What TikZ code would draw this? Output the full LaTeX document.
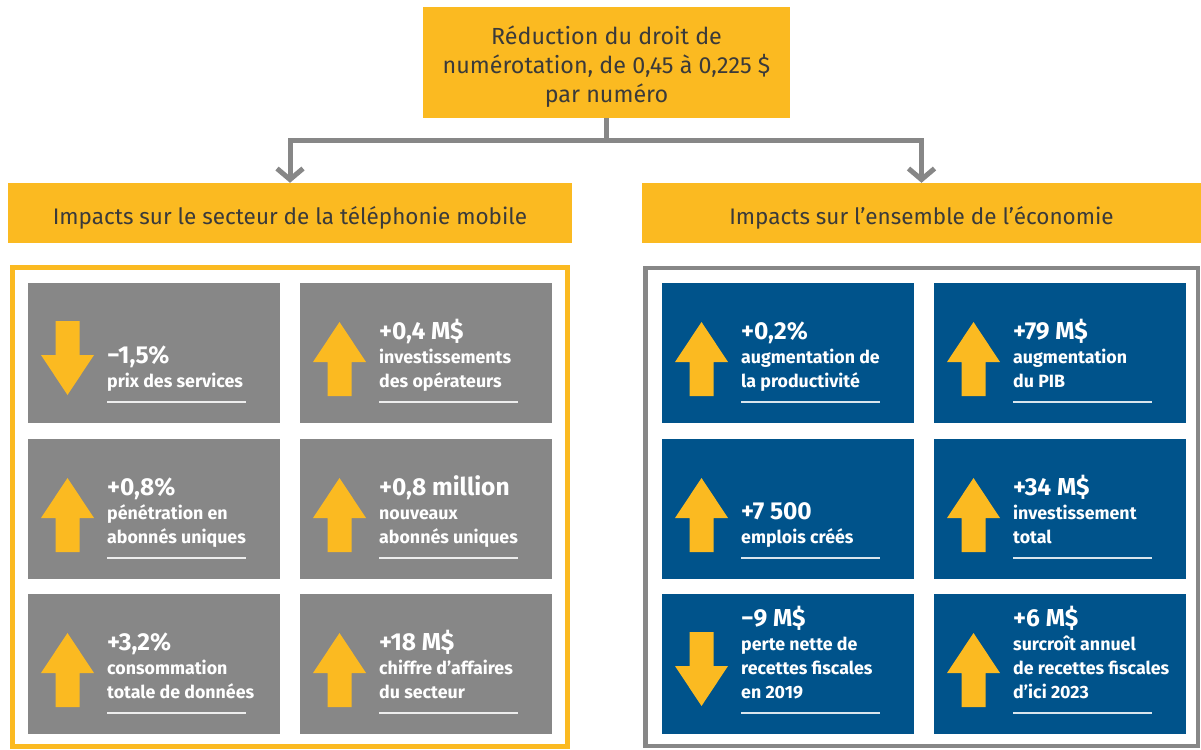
\documentclass[tikz,border=0pt]{standalone}
\usepackage{fontspec}
\setmainfont{Fira Sans}
\usetikzlibrary{arrows.meta}
\definecolor{ylw}{HTML}{FBBA21}
\definecolor{gry}{HTML}{878787}
\definecolor{blu}{HTML}{00538B}
\definecolor{txt}{HTML}{3A3A3A}
\tikzset{
  headbox/.style={fill=ylw, inner sep=0pt, text=txt, font=\fontsize{22.5}{28.5}\selectfont,
     text height=22pt, text depth=0pt},
  toptxt/.style={inner sep=0pt, align=center, text=txt, font=\fontsize{23.3}{29}\selectfont},
  conn/.style={draw=gry, line width=5pt, -{Straight Barb[length=11pt,width=26pt]}},
  valtxt/.style={anchor=base west, inner sep=0pt, text=white, font=\fontsize{24.5}{28}\selectfont\bfseries},
  subtxt/.style={anchor=base west, inner sep=0pt, text=white, font=\fontsize{17.8}{24}\selectfont\bfseries},
  rulel/.style={draw=white, opacity=0.85, line width=1.5pt},
}
\newcommand\tileup[3]{%
  \fill[#3] (#1,#2) rectangle (#1+252,#2+140);
  \fill[ylw] (#1+27.5,#2+113) -- (#1+27.5,#2+79) -- (#1+13,#2+79) -- (#1+39.5,#2+39)
     -- (#1+66,#2+79) -- (#1+51.5,#2+79) -- (#1+51.5,#2+113) -- cycle;
  \draw[rulel] (#1+79,#2+119) -- (#1+218,#2+119);
}
\newcommand\tiledown[3]{%
  \fill[#3] (#1,#2) rectangle (#1+252,#2+140);
  \fill[ylw] (#1+27.5,#2+38) -- (#1+27.5,#2+72) -- (#1+13,#2+72) -- (#1+39.5,#2+112)
     -- (#1+66,#2+72) -- (#1+51.5,#2+72) -- (#1+51.5,#2+38) -- cycle;
  \draw[rulel] (#1+79,#2+119) -- (#1+218,#2+119);
}
\begin{document}
\begin{tikzpicture}[x=1pt,y=-1pt]
\useasboundingbox (0,0) rectangle (1201,749);
\fill[white] (0,0) rectangle (1201,749);

% top box and headers
\node[fill=ylw, inner sep=0pt, minimum width=367pt, minimum height=111pt] (top) at (606.5,62.5) {};
\node[toptxt] (toptext) at (606.5,66.5)
  {Réduction du droit de\\numérotation, de 0,45 à 0,225 \$\\par numéro};
\node[headbox, minimum width=564pt, minimum height=60pt] (hl) at (290,213)
  {Impacts sur le secteur de la téléphonie mobile};
\node[headbox, minimum width=559pt, minimum height=60pt] (hr) at (921.5,213)
  {Impacts sur l'ensemble de l'économie};

% connectors
\draw[conn] (top.south) -- ++(0,22) coordinate (j) -| (hl.north);
\draw[conn] (j) -| (hr.north);

% frames
\draw[ylw, line width=5pt] (12,267.5) rectangle (567.5,746);
\draw[gry, line width=4.5pt] (645.5,268) rectangle (1198,746);

% left tiles
\tiledown{28}{283}{gry}
\node[valtxt] (l1v) at (107,363.5) {−1,5\%};
\node[subtxt] (l1a) at (107,387.5) {prix des services};

\tileup{300}{283}{gry}
\node[valtxt] (l2v) at (379,339.5) {+0,4 M\$};
\node[subtxt] (l2a) at (379,363.5) {investissements};
\node[subtxt] (l2b) at (379,387.5) {des opérateurs};

\tileup{28}{439}{gry}
\node[valtxt] (l3v) at (107,495.5) {+0,8\%};
\node[subtxt] (l3a) at (107,519.5) {pénétration en};
\node[subtxt] (l3b) at (107,543.5) {abonnés uniques};

\tileup{300}{439}{gry}
\node[valtxt] (l4v) at (379,495.5) {+0,8 million};
\node[subtxt] (l4a) at (379,519.5) {nouveaux};
\node[subtxt] (l4b) at (379,543.5) {abonnés uniques};

\tileup{28}{594}{gry}
\node[valtxt] (l5v) at (107,650.5) {+3,2\%};
\node[subtxt] (l5a) at (107,674.5) {consommation};
\node[subtxt] (l5b) at (107,698.5) {totale de données};

\tileup{300}{594}{gry}
\node[valtxt] (l6v) at (379,650.5) {+18 M\$};
\node[subtxt] (l6a) at (379,674.5) {chiffre d’affaires};
\node[subtxt] (l6b) at (379,698.5) {du secteur};

% right tiles
\tileup{662}{283}{blu}
\node[valtxt] (r1v) at (741,339.5) {+0,2\%};
\node[subtxt] (r1a) at (741,363.5) {augmentation de};
\node[subtxt] (r1b) at (741,387.5) {la productivité};

\tileup{934}{283}{blu}
\node[valtxt] (r2v) at (1013,339.5) {+79 M\$};
\node[subtxt] (r2a) at (1013,363.5) {augmentation};
\node[subtxt] (r2b) at (1013,387.5) {du PIB};

\tileup{662}{439}{blu}
\node[valtxt] (r3v) at (741,519.5) {+7 500};
\node[subtxt] (r3a) at (741,543.5) {emplois créés};

\tileup{934}{439}{blu}
\node[valtxt] (r4v) at (1013,495.5) {+34 M\$};
\node[subtxt] (r4a) at (1013,519.5) {investissement};
\node[subtxt] (r4b) at (1013,543.5) {total};

\tiledown{662}{594}{blu}
\node[valtxt] (r5v) at (741,626.5) {−9 M\$};
\node[subtxt] (r5a) at (741,650.5) {perte nette de};
\node[subtxt] (r5b) at (741,674.5) {recettes fiscales};
\node[subtxt] (r5c) at (741,698.5) {en 2019};

\tileup{934}{594}{blu}
\node[valtxt] (r6v) at (1013,626.5) {+6 M\$};
\node[subtxt] (r6a) at (1013,650.5) {surcroît annuel};
\node[subtxt] (r6b) at (1013,674.5) {de recettes fiscales};
\node[subtxt] (r6c) at (1013,698.5) {d’ici 2023};
\end{tikzpicture}
\end{document}
